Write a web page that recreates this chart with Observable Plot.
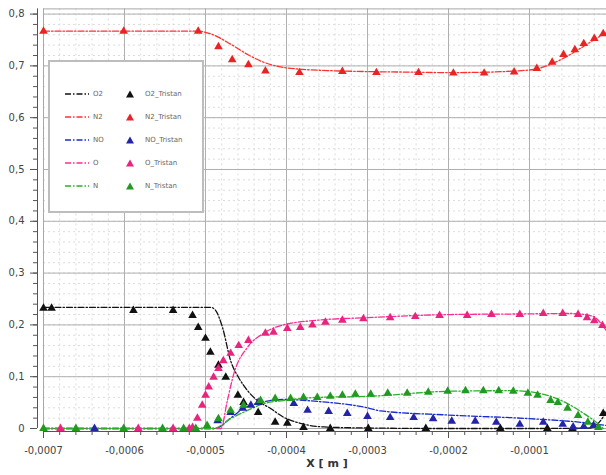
<!DOCTYPE html>
<html><head><meta charset="utf-8">
<script src="https://cdn.jsdelivr.net/npm/d3@7"></script>
<script src="https://cdn.jsdelivr.net/npm/@observablehq/plot@0.6"></script>
<style>
body{margin:0;background:#fff;font-family:"DejaVu Sans",sans-serif}
#wrap{position:relative;width:606px;height:475px;overflow:hidden}
#legend{position:absolute;left:48px;top:60px;width:156px;height:153px;border:2px solid #bdbdbd;background:#fff;box-sizing:border-box}
.row{position:absolute;font-size:7px;color:#666;line-height:8px}
</style>
</head><body>
<div id="wrap"><div id="legend"></div></div>
<script>
// ---- simulation curves [x, y] ----
const o2Sim = [[-0.0007,0.234],[-0.000494,0.234],[-0.000488,0.229],[-0.000479,0.195],[-0.000469,0.131],[-0.000459,0.098],[-0.000448,0.073],[-0.000436,0.054],[-0.00042,0.039],[-0.000404,0.022],[-0.000383,0.01],[-0.000354,0.003],[-0.0003,0.001],[-0.0002,0],[-0.0001,0],[-0.000025,0.001],[-0.000015,0.01],[-0.000005,0.033]];
const n2Sim = [[-0.0007,0.767],[-0.00051,0.767],[-0.000494,0.762],[-0.000469,0.742],[-0.000448,0.722],[-0.000428,0.707],[-0.000407,0.698],[-0.000386,0.694],[-0.00035,0.691],[-0.0003,0.689],[-0.00025,0.688],[-0.0002,0.687],[-0.00015,0.688],[-0.00012,0.69],[-0.000095,0.693],[-0.000074,0.703],[-0.000053,0.719],[-0.000033,0.738],[-0.000012,0.758],[-0.000005,0.764]];
const noSim = [[-0.0007,0],[-0.000488,0],[-0.000469,0.02],[-0.000453,0.039],[-0.000432,0.05],[-0.000404,0.056],[-0.00036,0.052],[-0.0003,0.04],[-0.000284,0.034],[-0.0002,0.026],[-0.0001,0.019],[-0.000037,0.012],[-0.000005,0.006]];
const oSim = [[-0.0007,0],[-0.000481,0],[-0.000473,0.054],[-0.000465,0.106],[-0.000448,0.157],[-0.000428,0.184],[-0.000404,0.2],[-0.000362,0.209],[-0.0003,0.214],[-0.000198,0.22],[-0.00012,0.221],[-0.00005,0.222],[-0.000025,0.218],[-0.000017,0.212],[-0.00001,0.199],[-0.000005,0.189]];
const nSim = [[-0.0007,0],[-0.00049,0],[-0.000469,0.019],[-0.000448,0.035],[-0.000428,0.048],[-0.000404,0.054],[-0.000362,0.06],[-0.0003,0.062],[-0.000198,0.072],[-0.00012,0.073],[-0.000078,0.064],[-0.000053,0.048],[-0.000033,0.029],[-0.000016,0.01],[-0.000009,0]];
// ---- Tristan data [x, y] ----
const o2Tri = [[-0.0007,0.232],[-0.00069,0.232],[-0.000589,0.228],[-0.00054,0.228],[-0.000516,0.218],[-0.000509,0.195],[-0.0005,0.174],[-0.000494,0.147],[-0.000484,0.122],[-0.000475,0.099],[-0.00046,0.064],[-0.000453,0.05],[-0.000435,0.031],[-0.000414,0.012],[-0.000399,0.01],[-0.000379,0.002],[-0.000346,0],[-0.000299,0],[-0.000228,0],[-0.000136,0],[-0.000078,0],[-0.000047,0],[-0.000009,0.029]];
const n2Tri = [[-0.0007,0.767],[-0.000601,0.767],[-0.000509,0.767],[-0.000484,0.737],[-0.000467,0.712],[-0.000447,0.702],[-0.000426,0.69],[-0.000384,0.687],[-0.000331,0.689],[-0.000289,0.687],[-0.000237,0.687],[-0.000194,0.686],[-0.000156,0.686],[-0.000119,0.688],[-0.000091,0.695],[-0.000072,0.707],[-0.000058,0.722],[-0.000044,0.731],[-0.000033,0.743],[-0.00002,0.753],[-0.000009,0.762]];
const noTri = [[-0.000637,0],[-0.000485,0.015],[-0.000469,0.031],[-0.000454,0.039],[-0.000444,0.045],[-0.000435,0.05],[-0.000391,0.048],[-0.000374,0.035],[-0.000348,0.033],[-0.000325,0.029],[-0.0003,0.023],[-0.000272,0.021],[-0.000243,0.021],[-0.000219,0.019],[-0.000196,0.014],[-0.000167,0.014],[-0.000141,0.012],[-0.000112,0.008],[-0.000083,0.012],[-0.000059,0.008],[-0.000046,0.003],[-0.000033,0.004],[-0.000021,0.006]];
const oTri = [[-0.000679,0],[-0.000583,0],[-0.00054,0],[-0.00052,0],[-0.000516,0.002],[-0.00051,0.02],[-0.000504,0.045],[-0.0005,0.064],[-0.000496,0.08],[-0.00049,0.099],[-0.000484,0.116],[-0.000478,0.131],[-0.000469,0.145],[-0.000459,0.16],[-0.000447,0.17],[-0.000426,0.184],[-0.000416,0.186],[-0.000399,0.193],[-0.000383,0.195],[-0.000368,0.2],[-0.000352,0.205],[-0.000331,0.209],[-0.000305,0.212],[-0.000272,0.214],[-0.000241,0.216],[-0.000211,0.218],[-0.000177,0.218],[-0.000147,0.22],[-0.000112,0.22],[-0.000083,0.222],[-0.000059,0.222],[-0.00004,0.22],[-0.000029,0.214],[-0.00002,0.208],[-0.00001,0.199]];
const nTri = [[-0.0007,0],[-0.00066,0],[-0.000601,0],[-0.000553,0],[-0.000527,0],[-0.000512,0],[-0.000498,0.006],[-0.000484,0.019],[-0.000469,0.035],[-0.000453,0.045],[-0.000432,0.054],[-0.000414,0.058],[-0.000395,0.058],[-0.000379,0.06],[-0.000362,0.06],[-0.000346,0.062],[-0.000331,0.064],[-0.000315,0.066],[-0.000296,0.066],[-0.000275,0.068],[-0.000251,0.068],[-0.000225,0.07],[-0.000201,0.072],[-0.000179,0.073],[-0.000157,0.073],[-0.000138,0.073],[-0.00012,0.072],[-0.000102,0.068],[-0.00009,0.064],[-0.000074,0.054],[-0.000065,0.05],[-0.000053,0.039],[-0.00004,0.025],[-0.000028,0.012],[-0.000015,0.002]];

const simNames = ["O2","N2","NO","O","N"];
const triNames = ["O2_Tristan","N2_Tristan","NO_Tristan","O_Tristan","N_Tristan"];
const lineColors = ["#111111","#ff3030","#1a2ccc","#ff2a95","#2cb02c"];
const dotColors = ["#111111","#e82424","#2424a8","#e8247e","#229a22"];
const sims = [o2Sim,n2Sim,noSim,oSim,nSim];
const tris = [o2Tri,n2Tri,noTri,oTri,nTri];

const xMajor = [-0.0007,-0.0006,-0.0005,-0.0004,-0.0003,-0.0002,-0.0001,0];
const xLabeled = [-0.0007,-0.0006,-0.0005,-0.0004,-0.0003,-0.0002,-0.0001];
const yMajor = [0,0.1,0.2,0.3,0.4,0.5,0.6,0.7,0.8];
const xMinor = d3.range(-35,1).map(i => i*0.00002);
const yMinor = d3.range(0,41).map(i => i*0.02);

const fmtX = d => Math.abs(d) < 1e-12 ? "0" : d.toFixed(4).replace(".", ",");
const fmtY = d => Math.abs(d) < 1e-12 ? "0" : d.toFixed(1).replace(".", ",");
const dash = "6,2,1.5,2";

const marks = [
  Plot.gridY(yMinor, {stroke:"#dcdcdc", strokeOpacity:1, strokeDasharray:"2,3"}),
  Plot.gridX(xMinor, {stroke:"#dcdcdc", strokeOpacity:1, strokeDasharray:"2,3"}),
  Plot.gridY(yMajor, {stroke:"#b0b0b0", strokeOpacity:1}),
  Plot.gridX(xMajor, {stroke:"#b0b0b0", strokeOpacity:1}),
  Plot.frame({stroke:"#a8a8a8"}),
  Plot.axisY(yMajor, {tickSize:7, dx:-6, tickPadding:6, tickFormat:fmtY, fontSize:10, fill:"#444", stroke:"#555", label:null}),
  Plot.axisY(yMinor, {tickSize:4, dx:-6, tickFormat:() => "", stroke:"#555", label:null}),
  Plot.ruleX([-0.0007], {dx:-6, stroke:"#555"}),
  Plot.axisX(xLabeled, {tickSize:7, dy:3, tickPadding:8, tickFormat:fmtX, fontSize:10, fill:"#444", stroke:"#555", label:null}),
  Plot.axisX(xMinor, {tickSize:4, dy:3, tickFormat:() => "", stroke:"#555", label:null}),
  Plot.ruleY([0], {dy:3, stroke:"#555"}),
  Plot.text(["X [ m ]"], {frameAnchor:"bottom", dy:38, fontWeight:"bold", fontSize:11, fill:"#333"})
];
sims.forEach((s,i) => marks.push(Plot.line(s, {x:d=>d[0], y:d=>d[1], stroke:lineColors[i], strokeWidth:1.3, strokeDasharray:dash, curve:"monotone-x"})));
tris.forEach((s,i) => marks.push(Plot.dot(s, {x:d=>d[0], y:d=>d[1], symbol:"triangle", fill:dotColors[i], r:3.2})));

const chart = Plot.plot({
  width:606, height:475,
  marginLeft:43, marginRight:-4, marginTop:8.4, marginBottom:47,
  style:{background:"#fff", fontFamily:"DejaVu Sans, sans-serif", overflow:"hidden"},
  x:{domain:[-0.0007,0]},
  y:{domain:[0,0.81]},
  marks
});
document.getElementById("wrap").prepend(chart);

// legend
const lg = document.getElementById("legend");
simNames.forEach((name,i) => {
  const top = 92 - 60 - 4 + i*23;
  const r = document.createElement("div");
  r.className = "row"; r.style.left = "0px"; r.style.top = top + "px"; r.style.width = "150px";
  r.innerHTML =
    `<svg width="30" height="8" style="position:absolute;left:13px;top:0"><line x1="2" y1="4" x2="26" y2="4" stroke="${lineColors[i]}" stroke-width="1.3" stroke-dasharray="${dash}"/></svg>` +
    `<span style="position:absolute;left:43px;top:0">${name}</span>` +
    `<svg width="10" height="8" style="position:absolute;left:75px;top:0"><path d="M5,0.5L9,7.5L1,7.5Z" fill="${dotColors[i]}"/></svg>` +
    `<span style="position:absolute;left:95px;top:0;white-space:nowrap">${triNames[i]}</span>`;
  lg.appendChild(r);
});
</script>
</body></html>
